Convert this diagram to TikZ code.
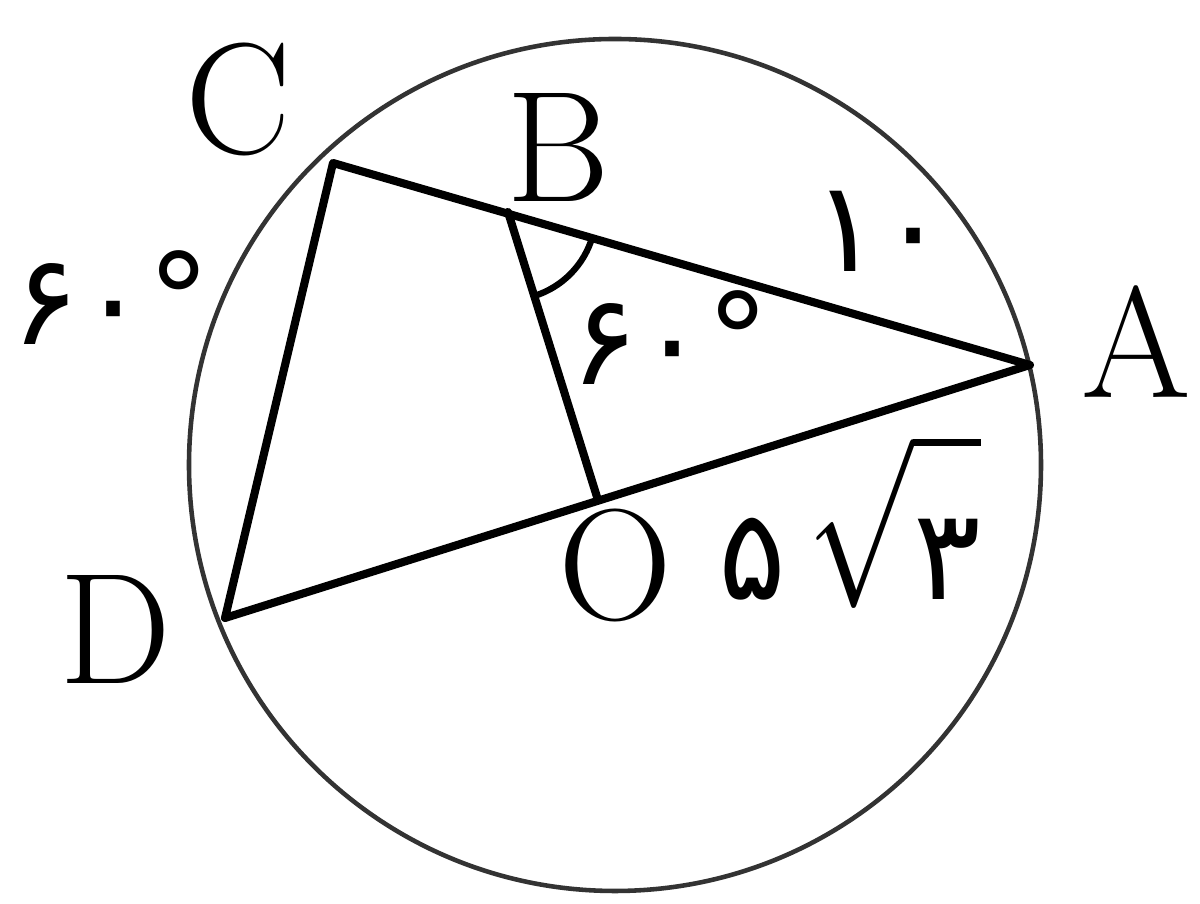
\RequirePackage{fix-cm}
\documentclass[tikz,border=0pt]{standalone}
\usepackage{graphicx}
\usepackage{fontspec}
\newfontfamily\arabicfont[Script=Arabic]{DejaVu Sans}
\tikzset{
  segment/.style={line width=2.3pt, line cap=round, line join=round},
  letra/.style={font=\fontsize{45}{50}\selectfont, inner sep=0pt},
  numero/.style={font=\arabicfont\fontsize{36}{40}\selectfont, inner sep=0pt}
}
\newcommand{\raiz}[1]{\scalebox{1.8}[2.4]{\fontsize{20}{24}\selectfont$\sqrt{\vrule width 0pt height 0.62cm depth 0.05cm\scalebox{1}[0.75]{\arabicfont\fontsize{20}{24}\selectfont #1}}$}}
\begin{document}
\begin{tikzpicture}
\useasboundingbox (0,0) rectangle (12,9.04);
% pontos da figura
\coordinate (A) at (10.30,5.39);
\coordinate (B) at (5.08,6.92);
\coordinate (C) at (3.33,7.41);
\coordinate (D) at (2.25,2.86);
\coordinate (O) at (5.97,4.07);
\coordinate (M) at (6.15,4.39);
% circunferência e segmentos
\draw[line width=1.3pt, black!80] (M) circle (4.26);
\draw[segment] (A) -- (C) -- (D) -- cycle;
\draw[segment] (B) -- (O);
\draw[line width=1.8pt] (B) ++(-72.7:0.88) arc (-72.7:-16.3:0.88);
% rótulos
\node[letra] (lA) at (11.36,5.62) {A};
\node[letra] (lB) at (5.58,7.56) {B};
\node[letra] (lC) at (2.38,8.04) {C};
\node[letra] (lD) at (1.15,2.74) {D};
\node[letra] (lO) at (6.15,3.38) {O};
\node[numero] (angC) at (1.11,6.06) {۶۰°};
\node[numero] (angB) at (6.70,5.66) {۶۰°};
\node[numero] (ladoAB) at (8.80,6.73) {۱۰};
\node[numero] (ladoOA) at (8.50,3.82) {۵\,\raiz{۳}};
\end{tikzpicture}
\end{document}
